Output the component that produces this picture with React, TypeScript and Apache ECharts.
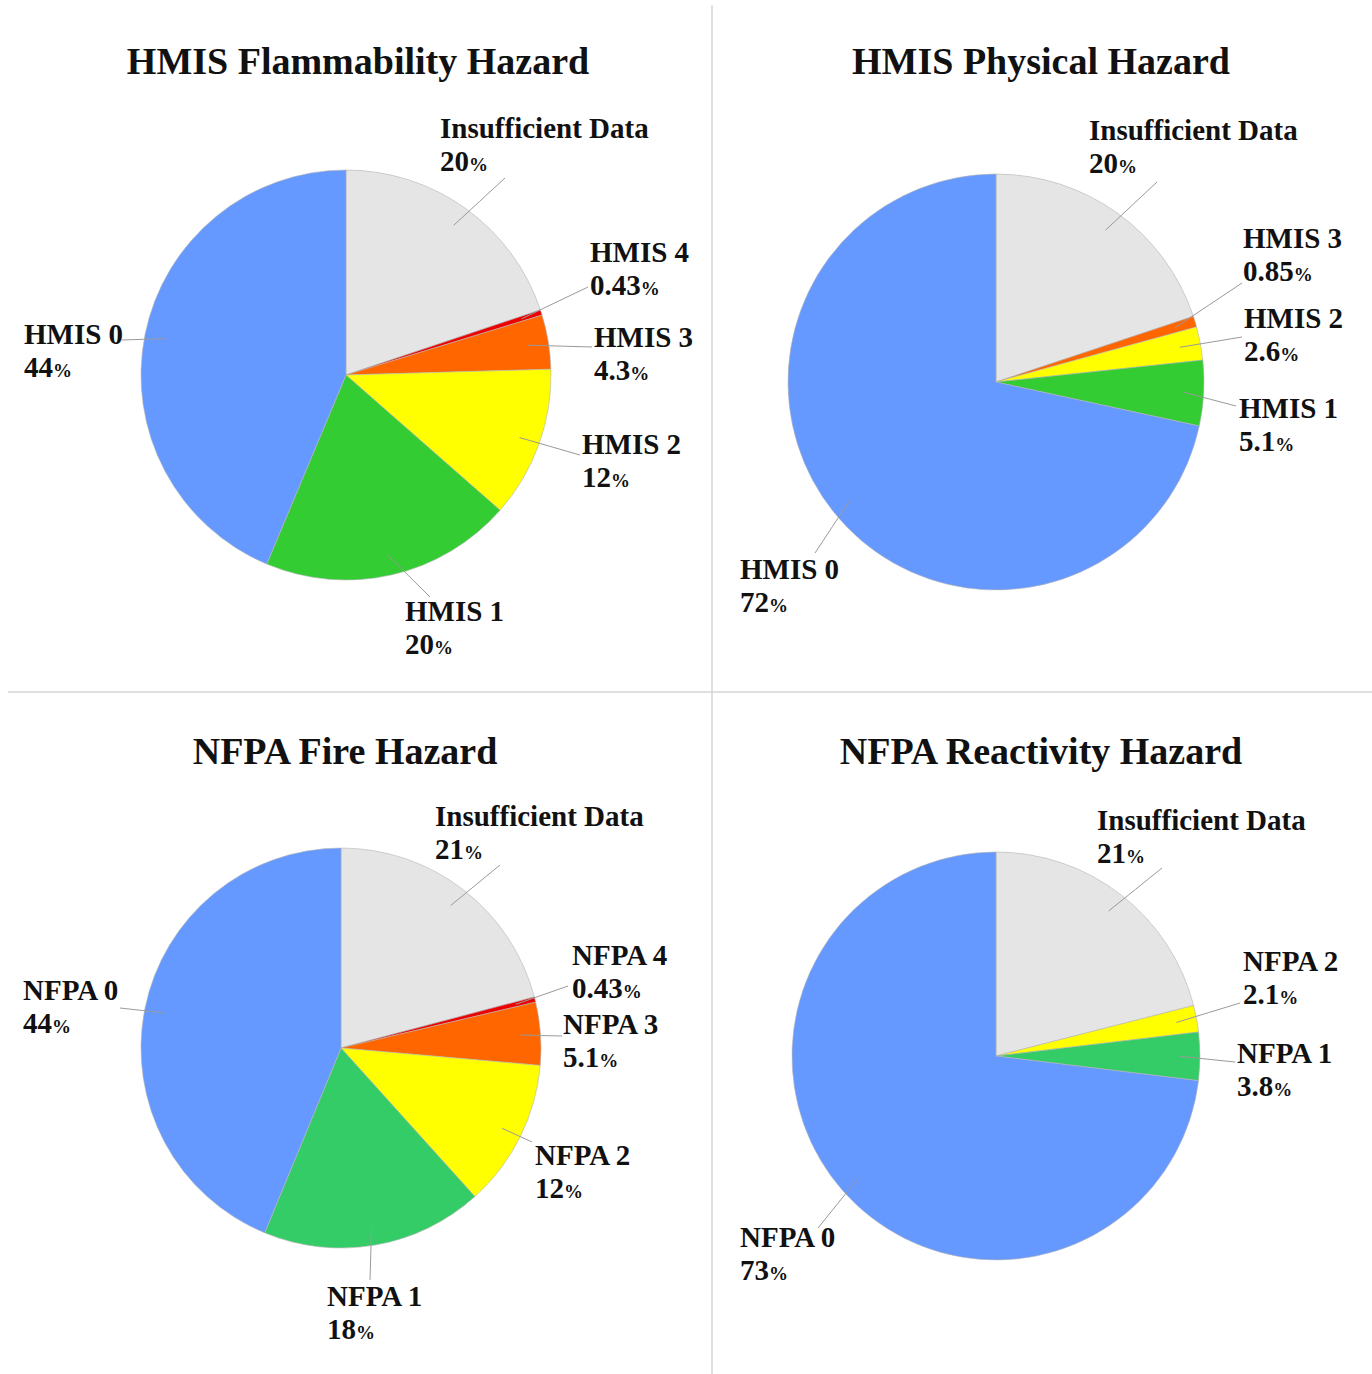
import React, { useEffect, useRef } from "react";
import * as echarts from "echarts";

// ---------- data ----------
const flamNames = ["Insufficient Data", "HMIS 4", "HMIS 3", "HMIS 2", "HMIS 1", "HMIS 0"];
const flamValues = [20, 0.43, 4.3, 12, 20, 44];

const physNames = ["Insufficient Data", "HMIS 3", "HMIS 2", "HMIS 1", "HMIS 0"];
const physValues = [20, 0.85, 2.6, 5.1, 72];

const fireNames = ["Insufficient Data", "NFPA 4", "NFPA 3", "NFPA 2", "NFPA 1", "NFPA 0"];
const fireValues = [21, 0.43, 5.1, 12, 18, 44];

const reacNames = ["Insufficient Data", "NFPA 2", "NFPA 1", "NFPA 0"];
const reacValues = [21, 2.1, 3.8, 73];

const titles = [
  "HMIS Flammability Hazard",
  "HMIS Physical Hazard",
  "NFPA Fire Hazard",
  "NFPA Reactivity Hazard",
];

// ---------- styles / layout ----------
const GRAY = "#e5e5e5";
const RED = "#ee0000";
const ORANGE = "#ff6600";
const YELLOW = "#ffff00";
const GREEN_A = "#33cc33";
const GREEN_B = "#33cc66";
const BLUE = "#6699ff";

const flamColors = [GRAY, RED, ORANGE, YELLOW, GREEN_A, BLUE];
const physColors = [GRAY, ORANGE, YELLOW, GREEN_A, BLUE];
const fireColors = [GRAY, RED, ORANGE, YELLOW, GREEN_B, BLUE];
const reacColors = [GRAY, YELLOW, GREEN_B, BLUE];

// pie geometry: [cx, cy, r]
const pieGeom = [
  [346, 375, 205],
  [996, 382, 208],
  [341, 1048, 200],
  [996, 1056, 204],
];
const titlePos = [
  [353, 37],
  [1036, 37],
  [340, 727],
  [1036, 727],
];

// label layout per chart: [textLeftX, textCenterY, lineEndX, lineEndY]
const labelLayouts = [
  [
    [440, 144, 505, 178],
    [590, 268, 588, 287],
    [594, 353, 592, 347],
    [582, 460, 580, 455],
    [405, 627, 430, 597],
    [24, 350, 122, 340],
  ],
  [
    [1089, 146, 1157, 182],
    [1243, 254, 1242, 283],
    [1244, 334, 1242, 337],
    [1239, 424, 1236, 406],
    [740, 585, 815, 553],
  ],
  [
    [435, 832, 500, 865],
    [572, 971, 568, 986],
    [563, 1040, 562, 1036],
    [535, 1171, 532, 1142],
    [327, 1312, 370, 1280],
    [23, 1006, 120, 1008],
  ],
  [
    [1097, 836, 1162, 868],
    [1243, 977, 1240, 1003],
    [1237, 1069, 1235, 1062],
    [740, 1253, 818, 1228],
  ],
];

const FONT = "'Liberation Serif', 'Times New Roman', serif";

const chartsData = [
  { names: flamNames, values: flamValues, colors: flamColors },
  { names: physNames, values: physValues, colors: physColors },
  { names: fireNames, values: fireValues, colors: fireColors },
  { names: reacNames, values: reacValues, colors: reacColors },
];

function midAngleFraction(values: number[], idx: number) {
  const total = values.reduce((a, b) => a + b, 0);
  let cum = 0;
  for (let i = 0; i < idx; i++) cum += values[i];
  return (cum + values[idx] / 2) / total;
}

export default function App() {
  const ref = useRef<HTMLDivElement>(null);

  useEffect(() => {
    document.body.style.margin = "0";
    if (!ref.current) return;
    const chart = echarts.init(ref.current, null, { renderer: "svg" });

    const series: any[] = [];
    chartsData.forEach((cd, si) => {
      const [cx, cy, r] = pieGeom[si];
      // slices
      series.push({
        type: "pie",
        z: 2,
        center: [cx, cy],
        radius: [0, r],
        startAngle: 90,
        clockwise: true,
        data: cd.names.map((n, i) => ({
          name: n,
          value: cd.values[i],
          itemStyle: { color: cd.colors[i] },
        })),
        itemStyle: { borderColor: "#b4b4b4", borderWidth: 0.6 },
        label: { show: false },
        labelLine: { show: false },
        emphasis: { disabled: true },
        silent: true,
      });
      // labels overlay (transparent slices, so leader lines show over the fills)
      series.push({
        type: "pie",
        z: 3,
        center: [cx, cy],
        radius: [0, r],
        startAngle: 90,
        clockwise: true,
        avoidLabelOverlap: false,
        silent: true,
        data: cd.names.map((n, i) => ({ name: n, value: cd.values[i] })),
        itemStyle: { color: "rgba(0,0,0,0)", borderWidth: 0 },
        label: {
          show: true,
          position: "outside",
          formatter: (p: any) => `{n|${p.name}}\n{v|${p.value}}{p|%}`,
          rich: {
            n: { fontFamily: FONT, fontWeight: "bold", fontSize: 29, lineHeight: 33, color: "#111" },
            v: { fontFamily: FONT, fontWeight: "bold", fontSize: 29, lineHeight: 33, color: "#111" },
            p: { fontFamily: FONT, fontWeight: "bold", fontSize: 19, lineHeight: 33, color: "#111", verticalAlign: "bottom", padding: [0, 0, 3, 0] },
          },
        },
        labelLine: {
          show: true,
          length: 10,
          length2: 10,
          lineStyle: { color: "#9a9a9a", width: 1 },
        },
        labelLayout: (params: any) => {
          const di = params.dataIndex;
          const lay = labelLayouts[si][di];
          const frac = midAngleFraction(cd.values, di);
          const ang = frac * Math.PI * 2;
          const ix = cx + 0.9 * r * Math.sin(ang);
          const iy = cy - 0.9 * r * Math.cos(ang);
          const ex = lay[2];
          const ey = lay[3];
          return {
            x: lay[0],
            y: lay[1],
            align: "left",
            verticalAlign: "middle",
            hideOverlap: false,
            labelLinePoints: [
              [ix, iy],
              [(ix + ex) / 2, (iy + ey) / 2],
              [ex, ey],
            ],
          };
        },
        emphasis: { disabled: true },
      });
    });

    chart.setOption({
      animation: false,
      backgroundColor: "#ffffff",
      title: titles.map((t, i) => ({
        text: t,
        left: titlePos[i][0],
        top: titlePos[i][1],
        textAlign: "center",
        textStyle: { fontFamily: FONT, fontWeight: "bold", fontSize: 38, color: "#111" },
      })),
      series,
      graphic: [
        { type: "line", shape: { x1: 712, y1: 5, x2: 712, y2: 1374 }, style: { stroke: "#d6d6d6", lineWidth: 1.5 } },
        { type: "line", shape: { x1: 8, y1: 692, x2: 1372, y2: 692 }, style: { stroke: "#d6d6d6", lineWidth: 1.5 } },
      ],
    });

    return () => chart.dispose();
  }, []);

  return <div ref={ref} style={{ width: 1372, height: 1374 }} />;
}
